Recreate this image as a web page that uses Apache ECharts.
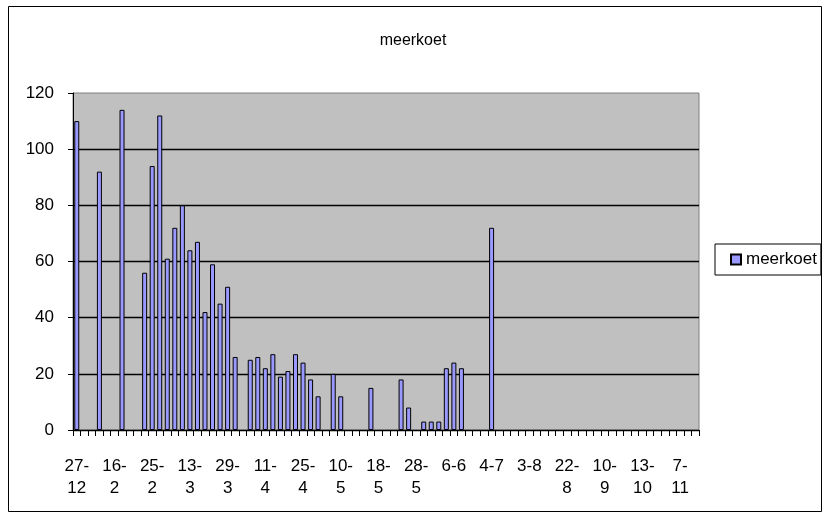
<!DOCTYPE html>
<html>
<head>
<meta charset="utf-8">
<script src="https://cdn.jsdelivr.net/npm/echarts@6/dist/echarts.min.js"></script>
<style>
html,body{margin:0;padding:0;background:#fff;}
#chart{width:826px;height:518px;}
</style>
</head>
<body>
<div id="chart"></div>
<script>
const categories = [
  '27-12','3-1','10-1','18-1','28-1','16-2','18-2','20-2','22-2','24-2',
  '25-2','27-2','1-3','4-3','7-3','13-3','16-3','19-3','22-3','25-3',
  '29-3','1-4','3-4','5-4','8-4','11-4','14-4','17-4','19-4','22-4',
  '25-4','27-4','29-4','2-5','6-5','10-5','12-5','13-5','15-5','16-5',
  '18-5','20-5','22-5','24-5','26-5','28-5','30-5','1-6','3-6','4-6',
  '6-6','9-6','13-6','20-6','27-6','4-7','11-7','18-7','25-7','29-7',
  '3-8','7-8','11-8','15-8','18-8','22-8','26-8','30-8','3-9','6-9',
  '10-9','17-9','24-9','1-10','7-10','13-10','20-10','27-10','1-11','4-11',
  '7-11','14-11','21-11'
];
const meerkoet = [
  110,null,null,92,null,null,114,null,null,56,
  94,112,61,72,80,64,67,42,59,45,
  51,26,null,25,26,22,27,19,21,27,
  24,18,12,null,20,12,null,null,null,15,
  null,null,null,18,8,null,3,3,3,22,
  24,22,null,null,null,72,null,null,null,null,
  null,null,null,null,null,null,null,null,null,null,
  null,null,null,null,null,null,null,null,null,null,
  null,null,null
];
const yTicks = { min: 0, max: 120, interval: 20 };
const seriesName = 'meerkoet';
const titleText = 'meerkoet';

const chart = echarts.init(document.getElementById('chart'), null, {renderer:'canvas'});
const font = 'Liberation Sans, Arial, sans-serif';
chart.setOption({
  animation: false,
  backgroundColor: '#ffffff',
  title: {
    text: titleText, left: 'center', top: 28,
    textStyle: { fontFamily: font, fontSize: 16, fontWeight: 'normal', color: '#000' }
  },
  legend: {
    data: [seriesName],
    orient: 'vertical',
    left: 715, top: 244,
    padding: [7, 4, 7, 15],
    borderColor: '#000', borderWidth: 1,
    itemWidth: 10, itemHeight: 10, itemGap: 5,
    icon: 'rect',
    textStyle: { fontFamily: font, fontSize: 17, color: '#000' }
  },
  grid: {
    left: 73, top: 93, right: 127, bottom: 88,
    show: true, backgroundColor: '#C0C0C0', borderColor: '#808080', borderWidth: 1
  },
  xAxis: {
    type: 'category',
    data: categories,
    boundaryGap: true,
    axisLine: { lineStyle: { color: '#000', width: 1 } },
    axisTick: { show: true, interval: 0, length: 6, lineStyle: { color: '#000' } },
    axisLabel: {
      interval: 4, margin: 25,
      fontFamily: font, fontSize: 17, color: '#000', lineHeight: 22,
      formatter: function (v) { return v.length > 3 ? v.replace('-', '-\n') : v; }
    }
  },
  yAxis: {
    type: 'value',
    min: yTicks.min, max: yTicks.max, interval: yTicks.interval,
    axisLine: { show: true, lineStyle: { color: '#000', width: 1 } },
    axisTick: { show: true, length: 5, lineStyle: { color: '#000' } },
    axisLabel: { margin: 19, fontFamily: font, fontSize: 17, color: '#000' },
    splitLine: { show: true, showMaxLine: false, lineStyle: { color: '#000', width: 1.3 } }
  },
  series: [{
    name: seriesName,
    type: 'bar',
    data: meerkoet,
    barWidth: 5,
    itemStyle: { color: '#9999FF', borderColor: '#000', borderWidth: 1 }
  }],
  graphic: [{
    type: 'rect',
    shape: { x: 8.5, y: 6.5, width: 813, height: 505 },
    style: { fill: 'none', stroke: '#000', lineWidth: 1 },
    silent: true, z: -1
  }]
});
</script>
</body>
</html>
